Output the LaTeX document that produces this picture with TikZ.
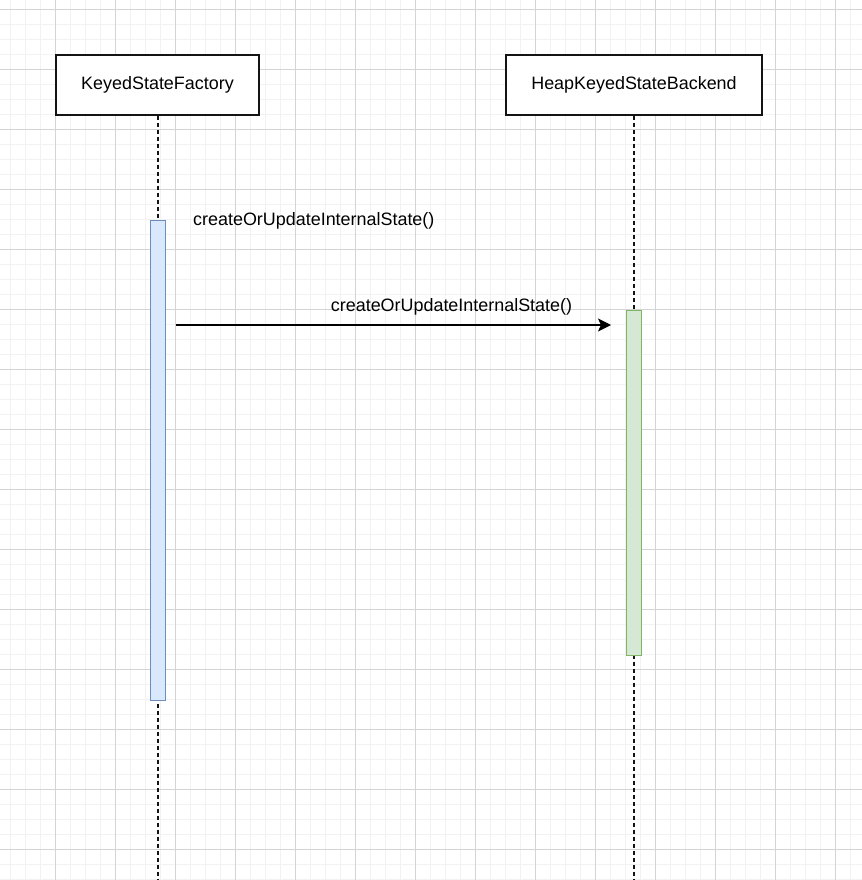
\documentclass[tikz,border=0pt]{standalone}
\usepackage{fontspec}
\setmainfont{Liberation Sans}
\usetikzlibrary{arrows.meta, positioning}
\definecolor{minorGrid}{RGB}{242,242,242}
\definecolor{majorGrid}{RGB}{212,212,212}
\definecolor{factoryFill}{RGB}{218,232,252}
\definecolor{factoryLine}{RGB}{108,142,191}
\definecolor{backendFill}{RGB}{213,232,212}
\definecolor{backendLine}{RGB}{130,179,102}
\definecolor{lineColor}{RGB}{20,20,20}

\begin{document}
\begin{tikzpicture}[
    x=1bp, y=-1bp,
    minorgrid/.style={draw=minorGrid, line width=1bp},
    majorgrid/.style={draw=majorGrid, line width=1bp},
    participant/.style={draw=lineColor, line width=1.4bp, fill=white, minimum width=203bp, minimum height=60bp, inner sep=0pt},
    lifeline/.style={draw=lineColor, line width=1.4bp, dash pattern=on 4bp off 3bp},
    activation/.style={line width=1.3bp, minimum width=15bp, inner sep=0pt, anchor=north},
    msg/.style={draw=black, line width=1.4bp, -{Stealth[length=13bp, width=13bp, inset=3bp]}},
    label/.style={inner sep=0pt},
    every node/.style={font=\fontsize{18}{21}\selectfont}
]

% Canvas and grid
\fill[white] (0,0) rectangle (862,880);
\useasboundingbox (0,0) rectangle (862,880);
\foreach \gx in {10,25,...,860} {
    \draw[minorgrid] (\gx,0) -- (\gx,880);
}
\foreach \gy in {9,24,...,879} {
    \draw[minorgrid] (0,\gy) -- (862,\gy);
}
\foreach \gx in {55,115,...,835} {
    \draw[majorgrid] (\gx,0) -- (\gx,880);
}
\foreach \gy in {9,69,...,849} {
    \draw[majorgrid] (0,\gy) -- (862,\gy);
}

% Participants
\node[participant] (factory) at (157.5,85) {KeyedStateFactory};
\node[participant, minimum width=256bp] (backend) at (634,85) {HeapKeyedStateBackend};

% Lifelines
\coordinate (factoryend) at (158,880);
\coordinate (backendend) at (634,880);
\draw[lifeline] (factory.south -| factoryend) -- (factoryend);
\draw[lifeline] (backend.south -| backendend) -- (backendend);

% Activations
\node[activation, draw=factoryLine, fill=factoryFill, minimum height=480bp] (factoryact) at (158,220) {};
\node[activation, draw=backendLine, fill=backendFill, minimum height=345bp] (backendact) at (634,310) {};

% Messages
\node[label, anchor=west] (firstcall) at (193,221) {createOrUpdateInternalState()};
\coordinate (callsrc) at (176,325);
\coordinate (calldst) at (611,325);
\draw[msg] (callsrc) -- (calldst);
\node[label] (secondcall) at (451.5,307) {createOrUpdateInternalState()};

\end{tikzpicture}
\end{document}
